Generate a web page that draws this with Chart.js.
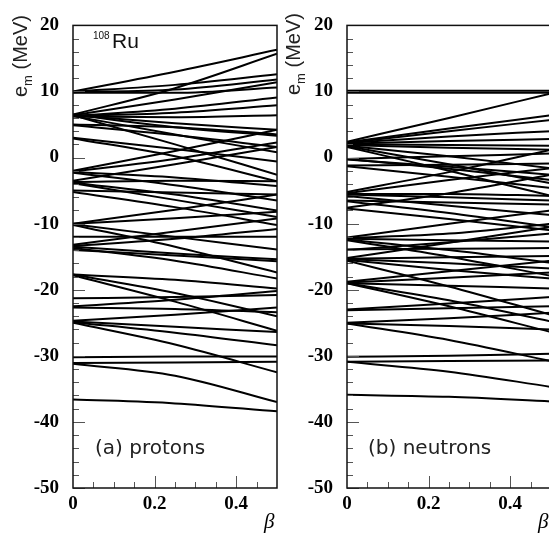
<!DOCTYPE html>
<html>
<head>
<meta charset="utf-8">
<script src="https://cdn.jsdelivr.net/npm/chart.js@4.4.1/dist/chart.umd.min.js"></script>
<style>
  html, body { margin: 0; padding: 0; background: #fff; overflow: hidden; }
  body { width: 549px; height: 540px; position: relative; }
  .panel { position: absolute; top: 0; height: 540px; }
</style>
</head>
<body>
<div class="panel" style="left:0;width:290px"><canvas id="protonChart"></canvas></div>
<div class="panel" style="left:280px;width:280px"><canvas id="neutronChart"></canvas></div>
<script>
const BETA = [0, 0.25, 0.5];
const X_TICKS = [0, 0.2, 0.4];
const Y_TICKS = [20, 10, 0, -10, -20, -30, -40, -50];

// single-particle energies e_m (MeV) at beta = 0, 0.25, 0.5
const protonLevels = [
    [10.0, 13.0, 16.3], [10.0, 11.0, 12.6], [9.9, 10.3, 11.8], [9.8, 9.8, 10.6],
    [6.5, 10.5, 15.7], [6.4, 8.8, 11.4], [6.3, 7.4, 9.1], [6.3, 6.8, 7.9],
    [6.2, 6.1, 6.4], [6.4, 5.2, 4.2], [6.5, 4.6, 3.3], [6.3, 3.5, 0.8],
    [6.4, 2.0, -2.6], [5.0, 4.6, 3.5], [4.9, 3.4, 1.6], [3.0, 1.3, -0.6],
    [2.9, 0.2, -3.6], [-2.0, 1.0, 4.2], [-2.1, -0.2, 2.3], [-2.2, -3.0, -4.3],
    [-2.3, -4.2, -6.5], [-3.5, -1.0, 1.6], [-3.7, -3.5, -3.6], [-3.8, -5.6, -8.0],
    [-3.9, -6.4, -9.0], [-5.0, -5.3, -5.6], [-5.2, -7.5, -10.2], [-10.0, -7.9, -5.6],
    [-10.0, -9.2, -8.2], [-10.1, -12.0, -13.9], [-10.2, -13.5, -17.4], [-12.0, -12.0, -12.0],
    [-13.2, -11.2, -9.2], [-13.4, -12.3, -10.8], [-13.5, -14.5, -15.4], [-13.7, -15.6, -18.3],
    [-14.0, -14.8, -15.7], [-17.7, -18.5, -19.8], [-17.7, -20.5, -24.0], [-17.8, -21.8, -26.2],
    [-21.3, -21.1, -20.8], [-22.5, -21.5, -20.2], [-22.7, -22.9, -23.4], [-24.7, -23.8, -22.7],
    [-24.8, -25.6, -26.4], [-24.9, -26.5, -28.4], [-25.0, -28.3, -32.5], [-30.2, -30.1, -30.1],
    [-31.1, -31.0, -30.9], [-31.2, -33.0, -37.0], [-36.6, -37.2, -38.4]
];

const neutronLevels = [
    [10.1, 10.1, 10.1], [9.8, 9.8, 9.8], [2.4, 6.0, 9.7], [2.3, 4.4, 6.4],
    [2.2, 4.0, 5.7], [2.2, 3.2, 4.0], [2.1, 2.5, 2.8], [2.0, 1.9, 1.8],
    [1.9, 1.5, 1.2], [1.8, 0.2, -1.6], [1.7, -1.0, -3.9], [1.6, -2.0, -5.8],
    [-0.2, 0.2, 0.6], [-0.3, -1.4, -2.6], [-0.2, -1.7, -3.4], [-1.2, -1.1, -0.9],
    [-1.3, -2.9, -4.6], [-5.2, -2.2, 1.2], [-5.4, -3.4, -1.6], [-5.5, -5.5, -5.8],
    [-5.6, -6.0, -6.5], [-5.8, -7.3, -8.7], [-6.5, -6.8, -7.1], [-6.6, -8.4, -10.5],
    [-7.6, -5.4, -2.6], [-7.7, -9.3, -11.0], [-12.1, -10.0, -8.0], [-12.2, -11.5, -10.0],
    [-12.3, -12.5, -12.7], [-12.4, -14.0, -15.9], [-12.5, -15.0, -17.9], [-13.9, -13.8, -13.7],
    [-14.0, -12.8, -11.5], [-15.2, -12.9, -10.5], [-15.3, -15.1, -14.9], [-15.4, -16.0, -16.8],
    [-15.5, -17.0, -18.3], [-15.6, -19.5, -23.8], [-18.8, -17.2, -15.6], [-18.9, -18.2, -17.4],
    [-19.0, -19.4, -19.8], [-19.0, -21.6, -24.8], [-19.0, -22.5, -26.4], [-23.0, -22.1, -21.1],
    [-23.1, -22.8, -22.5], [-25.0, -24.3, -23.5], [-25.1, -25.5, -26.0], [-25.1, -27.6, -30.8],
    [-30.15, -30.0, -29.7], [-30.9, -30.8, -30.7], [-30.9, -32.4, -34.7], [-35.9, -36.2, -36.9]
];

const tickFont = { family: '"Liberation Serif", "DejaVu Serif", serif', size: 19, weight: 'bold' };

function makeDatasets(levels) {
    return levels.map(e => ({
        data: BETA.map((b, i) => ({ x: b, y: e[i] })),
        borderColor: '#000',
        borderWidth: 2,
        pointRadius: 0,
        fill: false,
        cubicInterpolationMode: 'monotone'
    }));
}

// inward ticks, frame and the panel texts
const panelDecor = {
    id: 'panelDecor',
    afterDraw(chart, args, opts) {
        const ctx = chart.ctx;
        const a = chart.chartArea;
        const x = chart.scales.x;
        const y = chart.scales.y;
        ctx.save();

        ctx.strokeStyle = '#555';
        ctx.lineWidth = 1;
        for (let v = -50; v <= 20; v += 2) {
            const py = Math.round(y.getPixelForValue(v)) + 0.5;
            const len = v % 10 === 0 ? 12 : 6;
            ctx.beginPath();
            ctx.moveTo(a.left, py);
            ctx.lineTo(a.left + len, py);
            ctx.stroke();
        }
        for (let i = 1; i < 10; i++) {
            const px = Math.round(x.getPixelForValue(i * 0.05)) + 0.5;
            const len = i % 4 === 0 ? 12 : 6;
            ctx.beginPath();
            ctx.moveTo(px, a.bottom);
            ctx.lineTo(px, a.bottom - len);
            ctx.stroke();
        }

        ctx.strokeStyle = '#111';
        ctx.lineWidth = 1.5;
        ctx.strokeRect(a.left, a.top, a.right - a.left, a.bottom - a.top);

        // y axis title e_m (MeV)
        ctx.fillStyle = '#222';
        ctx.translate(opts.titleX, opts.titleY);
        ctx.rotate(-Math.PI / 2);
        ctx.textBaseline = 'alphabetic';
        ctx.textAlign = 'left';
        ctx.font = '20px "Liberation Sans", Arial, sans-serif';
        ctx.fillText('e', 0, 0);
        let w = ctx.measureText('e').width;
        ctx.font = '13px "Liberation Sans", Arial, sans-serif';
        ctx.fillText('m', w, 5);
        w += ctx.measureText('m').width;
        ctx.font = '20px "Liberation Sans", Arial, sans-serif';
        ctx.fillText(' (MeV)', w, 0);
        ctx.setTransform(1, 0, 0, 1, 0, 0);
        ctx.restore();
        ctx.save();

        ctx.fillStyle = '#222';
        ctx.font = '20px "DejaVu Sans", sans-serif';
        ctx.fillText(opts.label, opts.labelX, opts.labelY);

        ctx.fillStyle = '#000';
        ctx.font = 'italic 21px "Liberation Serif", serif';
        ctx.fillText('β', opts.betaX, opts.betaY);

        if (opts.nucleus) {
            ctx.fillStyle = '#111';
            ctx.font = '10px "Liberation Sans", Arial, sans-serif';
            ctx.fillText('108', 93, 39);
            ctx.font = '21px "Liberation Sans", Arial, sans-serif';
            ctx.fillText('Ru', 112, 48);
        }
        ctx.restore();
    }
};

function makeChart(id, levels, cfg) {
    return new Chart(document.getElementById(id), {
        type: 'line',
        data: { datasets: makeDatasets(levels) },
        options: {
            responsive: true,
            maintainAspectRatio: false,
            animation: false,
            events: [],
            layout: { padding: { top: 13, right: cfg.padRight, left: 0, bottom: 0 } },
            plugins: {
                legend: { display: false },
                tooltip: { enabled: false },
                panelDecor: cfg
            },
            scales: {
                x: {
                    type: 'linear',
                    min: 0,
                    max: 0.5,
                    afterBuildTicks: s => { s.ticks = X_TICKS.map(v => ({ value: v })); },
                    afterFit: s => { s.height = 52; },
                    grid: { display: false, drawTicks: false },
                    border: { display: false },
                    ticks: {
                        font: tickFont,
                        color: '#000',
                        padding: 5,
                        maxRotation: 0,
                        callback: v => (v === 0 ? '0' : v.toFixed(1))
                    }
                },
                y: {
                    type: 'linear',
                    min: -50,
                    max: 20,
                    afterBuildTicks: s => { s.ticks = Y_TICKS.map(v => ({ value: v })); },
                    afterFit: s => { s.width = cfg.axisWidth; },
                    grid: { display: false, drawTicks: false },
                    border: { display: false },
                    ticks: { font: tickFont, color: '#000', padding: 14 }
                }
            }
        },
        plugins: [panelDecor]
    });
}

makeChart('protonChart', protonLevels, {
    axisWidth: 73, padRight: 13,
    titleX: 27, titleY: 97,
    label: '(a) protons', labelX: 95, labelY: 454,
    betaX: 264, betaY: 528,
    nucleus: true
});

makeChart('neutronChart', neutronLevels, {
    axisWidth: 67, padRight: 9,
    titleX: 20, titleY: 95,
    label: '(b) neutrons', labelX: 88, labelY: 454,
    betaX: 258, betaY: 528,
    nucleus: false
});
</script>
</body>
</html>
